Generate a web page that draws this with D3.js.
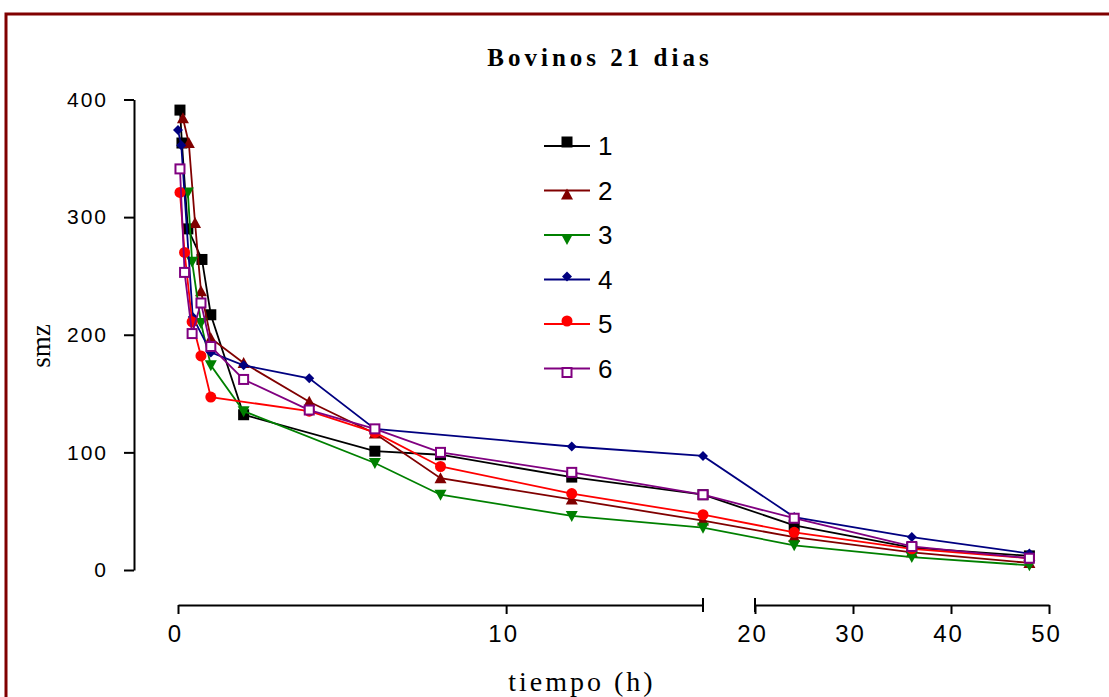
<!DOCTYPE html>
<html>
<head>
<meta charset="utf-8">
<script src="https://cdn.jsdelivr.net/npm/d3@7"></script>
<style>
  body { margin: 0; background: #fff; }
  svg { display: block; }
  .xlbl { font-family: "Liberation Sans", Arial, sans-serif; font-size: 24px; letter-spacing: 2px; }
  .ylbl { font-family: "Liberation Sans", Arial, sans-serif; font-size: 21px; letter-spacing: 2px; }
</style>
</head>
<body>
<div id="chart"></div>
<script>
// Data (tiempo in hours, smz)
var seriesNames = ['1', '2', '3', '4', '5', '6'];
var seriesColors = ['#000000', '#800000', '#008000', '#000080', '#ff0000', '#800080'];
var seriesSymbols = ['square', 'triUp', 'triDown', 'diamond', 'circle', 'openSquare'];

var t1 = [0.06, 0.12, 0.3, 0.73, 1, 2, 6, 8, 12, 16, 24, 36, 48];
var v1 = [391, 363, 290, 264, 217, 132, 101, 98, 79, 64, 38, 19, 12];

var t2 = [0.15, 0.33, 0.52, 0.7, 1, 2, 4, 6, 8, 12, 16, 24, 36, 48];
var v2 = [384, 363, 295, 237, 197, 176, 143, 116, 78, 60, 42, 28, 15, 6];

var t3 = [0.3, 0.43, 0.7, 1, 2, 6, 8, 12, 16, 24, 36, 48];
var v3 = [321, 262, 210, 174, 135, 91, 64, 46, 36, 21, 11, 4];

var t4 = [0, 0.1, 0.45, 1, 2, 4, 6, 12, 16, 24, 36, 48];
var v4 = [374, 361, 215, 185, 174, 163, 120, 105, 97, 45, 28, 14];

var t5 = [0.06, 0.2, 0.43, 0.7, 1, 4, 6, 8, 12, 16, 24, 36, 48];
var v5 = [321, 270, 211, 182, 147, 135, 117, 88, 65, 47, 32, 18, 10];

var t6 = [0.06, 0.2, 0.43, 0.7, 1, 2, 4, 6, 8, 12, 16, 24, 36, 48];
var v6 = [341, 253, 201, 227, 190, 162, 136, 120, 100, 83, 64, 44, 20, 10];

var xTicksLeft = [0, 10];
var xTicksRight = [20, 30, 40, 50];
var yTicks = [0, 100, 200, 300, 400];

var times = [t1, t2, t3, t4, t5, t6];
var values = [v1, v2, v3, v4, v5, v6];

var width = 1109, height = 697;

var svg = d3.select('#chart').append('svg')
    .attr('width', width)
    .attr('height', height);

// outer frame
svg.append('rect')
    .attr('x', 6).attr('y', 14)
    .attr('width', 1120).attr('height', 700)
    .attr('fill', 'none')
    .attr('stroke', '#800000')
    .attr('stroke-width', 3);

// broken x axis: two linear pieces
var xLeft = d3.scaleLinear().domain([0, 16]).range([178, 703]);
var xRight = d3.scaleLinear().domain([20, 50]).range([755, 1049]);
function xPos(t) { return t <= 16 ? xLeft(t) : xRight(t); }

var y = d3.scaleLinear().domain([0, 400]).range([570, 99.5]);

var axisY = 605;

var gxl = svg.append('g')
    .attr('transform', 'translate(0,' + axisY + ')')
    .call(d3.axisBottom(xLeft).tickValues(xTicksLeft).tickSize(9).tickSizeOuter(0).tickFormat(d3.format('d')));
var gxr = svg.append('g')
    .attr('transform', 'translate(0,' + axisY + ')')
    .call(d3.axisBottom(xRight).tickValues(xTicksRight).tickSize(9).tickSizeOuter(0).tickFormat(d3.format('d')));

[gxl, gxr].forEach(function(g) {
    g.attr('font-size', null).attr('font-family', null);
    g.select('.domain').attr('stroke', '#000').attr('stroke-width', 2);
    g.selectAll('.tick line').attr('stroke', '#000').attr('stroke-width', 2);
    g.selectAll('.tick text')
        .attr('class', 'xlbl')
        .attr('fill', '#000')
        .attr('dy', '0.35em')
        .attr('y', 29)
        .attr('dx', -3);
});

// break marks at the end of the left piece and start of the right piece
svg.append('g').selectAll('line')
    .data([xLeft(16), xRight(20)])
    .join('line')
    .attr('x1', function(d) { return d; })
    .attr('x2', function(d) { return d; })
    .attr('y1', axisY - 7)
    .attr('y2', axisY + 7)
    .attr('stroke', '#000')
    .attr('stroke-width', 2);

var gy = svg.append('g')
    .attr('transform', 'translate(134,0)')
    .call(d3.axisLeft(y).tickValues(yTicks).tickSize(10).tickSizeOuter(0).tickFormat(d3.format('d')));
gy.attr('font-size', null).attr('font-family', null);
gy.select('.domain').attr('stroke', '#000').attr('stroke-width', 2);
gy.selectAll('.tick line').attr('stroke', '#000').attr('stroke-width', 2);
gy.selectAll('.tick text')
    .attr('class', 'ylbl')
    .attr('fill', '#000')
    .attr('x', -26);

// title and axis labels
svg.append('text')
    .attr('x', 600).attr('y', 66)
    .attr('text-anchor', 'middle')
    .style('font-family', '"Liberation Serif", "Times New Roman", serif')
    .style('font-weight', 'bold')
    .style('font-size', '25px')
    .style('letter-spacing', '4px')
    .text('Bovinos 21 dias');

svg.append('text')
    .attr('x', 582).attr('y', 691)
    .attr('text-anchor', 'middle')
    .style('font-family', '"Liberation Serif", "Times New Roman", serif')
    .style('font-size', '28px')
    .style('letter-spacing', '3px')
    .text('tiempo (h)');

svg.append('text')
    .attr('transform', 'translate(50,346) rotate(-90)')
    .attr('text-anchor', 'middle')
    .style('font-family', '"Liberation Serif", "Times New Roman", serif')
    .style('font-size', '27px')
    .text('smz');

// symbol drawing
function drawSymbol(g, kind, color, cx, cy) {
    switch (kind) {
        case 'square':
            g.append('rect').attr('x', cx - 5.5).attr('y', cy - 5.5).attr('width', 11).attr('height', 11).attr('fill', color);
            break;
        case 'openSquare':
            g.append('rect').attr('x', cx - 4.5).attr('y', cy - 4.5).attr('width', 9).attr('height', 9)
                .attr('fill', '#fff').attr('stroke', color).attr('stroke-width', 2);
            break;
        case 'triUp':
            g.append('path').attr('d', 'M' + cx + ',' + (cy - 6) + 'L' + (cx + 6) + ',' + (cy + 5) + 'L' + (cx - 6) + ',' + (cy + 5) + 'Z').attr('fill', color);
            break;
        case 'triDown':
            g.append('path').attr('d', 'M' + cx + ',' + (cy + 6) + 'L' + (cx + 6) + ',' + (cy - 5) + 'L' + (cx - 6) + ',' + (cy - 5) + 'Z').attr('fill', color);
            break;
        case 'diamond':
            g.append('path').attr('d', 'M' + cx + ',' + (cy - 5) + 'L' + (cx + 5) + ',' + cy + 'L' + cx + ',' + (cy + 5) + 'L' + (cx - 5) + ',' + cy + 'Z').attr('fill', color);
            break;
        case 'circle':
            g.append('circle').attr('cx', cx).attr('cy', cy).attr('r', 5.5).attr('fill', color);
            break;
    }
}

var line = d3.line()
    .x(function(d) { return xPos(d[0]); })
    .y(function(d) { return y(d[1]); });

var plot = svg.append('g');

seriesNames.forEach(function(name, i) {
    var pts = times[i].map(function(t, j) { return [t, values[i][j]]; });
    var g = plot.append('g');
    g.append('path')
        .datum(pts)
        .attr('d', line)
        .attr('fill', 'none')
        .attr('stroke', seriesColors[i])
        .attr('stroke-width', 1.8);
    pts.forEach(function(p) {
        drawSymbol(g, seriesSymbols[i], seriesColors[i], xPos(p[0]), y(p[1]));
    });
});

// legend
var legendTop = 146, legendStep = 44.5;
var legendOffsets = [-4, 4, 4, -3, -3, 4];
var legend = svg.append('g');
seriesNames.forEach(function(name, i) {
    var ly = legendTop + i * legendStep;
    legend.append('line')
        .attr('x1', 544).attr('x2', 590)
        .attr('y1', ly).attr('y2', ly)
        .attr('stroke', seriesColors[i])
        .attr('stroke-width', 1.8);
    drawSymbol(legend, seriesSymbols[i], seriesColors[i], 567, ly + legendOffsets[i]);
    legend.append('text')
        .attr('x', 598).attr('y', ly)
        .attr('dy', '0.35em')
        .style('font-family', '"Liberation Sans", Arial, sans-serif')
        .style('font-size', '26px')
        .text(name);
});
</script>
</body>
</html>
